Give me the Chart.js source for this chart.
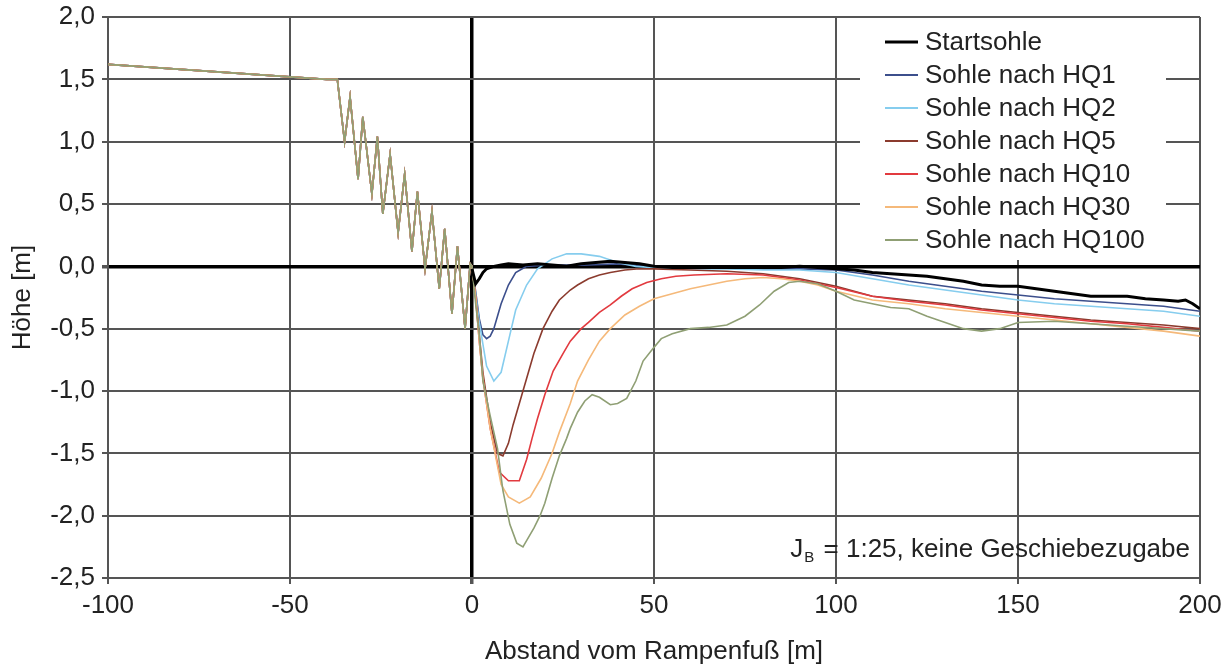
<!DOCTYPE html>
<html lang="de">
<head>
<meta charset="utf-8">
<title>Sohlentwicklung unterhalb der Rampe</title>
<script src="https://cdn.jsdelivr.net/npm/chart.js@4.4.1/dist/chart.umd.min.js"></script>
<style>
  html, body { margin: 0; padding: 0; background: #fff; }
  #wrap { position: relative; width: 1228px; height: 668px; }
</style>
</head>
<body>
<div id="wrap"><canvas id="sohleChart" width="1228" height="668"></canvas></div>
<script>
// --- Daten ---

// Achsen
const xTicks = [-100, -50, 0, 50, 100, 150, 200];
const yTicks = [-2.5, -2.0, -1.5, -1.0, -0.5, 0.0, 0.5, 1.0, 1.5, 2.0];

const seriesNames = ['Startsohle', 'Sohle nach HQ1', 'Sohle nach HQ2', 'Sohle nach HQ5',
                     'Sohle nach HQ10', 'Sohle nach HQ30', 'Sohle nach HQ100'];

// Rampe (Oberwasser + Riegelstrecke), für alle Abflüsse nahezu gleich
const rampX = [-100, -90, -80, -70, -60, -50, -40, -37, -35, -33.5, -31.3, -30, -27.5, -26,
               -24.5, -22.5, -20.3, -18.5, -16.5, -15, -12.9, -11, -9, -7.5, -5.5, -4, -1.9, -0.5];
const rampY = [1.62, 1.6, 1.58, 1.56, 1.54, 1.52, 1.5, 1.5, 1.0, 1.36, 0.7, 1.2, 0.58, 1.04,
               0.42, 0.9, 0.27, 0.74, 0.12, 0.6, -0.02, 0.44, -0.18, 0.3, -0.38, 0.16, -0.5, 0.02];

// Startsohle unterhalb des Rampenfußes
const startX = [0, 1, 2, 3, 4, 6, 8, 10, 14, 18, 22, 26, 30, 34, 38, 42, 46, 50, 55, 60, 65, 70, 75,
                80, 85, 90, 95, 100, 105, 110, 115, 120, 125, 130, 135, 140, 145, 150, 155, 160, 165,
                170, 175, 180, 185, 190, 194, 196, 198, 200];
const startY = [-0.02, -0.14, -0.1, -0.05, -0.02, 0, 0.01, 0.02, 0.01, 0.02, 0.01, 0, 0.02, 0.03, 0.04,
                0.03, 0.02, 0, -0.01, -0.01, -0.01, -0.01, -0.01, -0.01, -0.01, 0, -0.01, -0.02, -0.03,
                -0.05, -0.06, -0.07, -0.08, -0.1, -0.12, -0.15, -0.16, -0.16, -0.18, -0.2, -0.22,
                -0.24, -0.24, -0.24, -0.26, -0.27, -0.28, -0.27, -0.3, -0.34];

// Sohle nach HQ1
const hq1X = [0, 1, 2, 3, 4, 5, 6, 7, 8, 10, 12, 15, 20, 30, 40, 50, 60, 70, 80, 90, 100, 110, 120,
              130, 140, 150, 160, 170, 180, 190, 200];
const hq1Y = [0, -0.2, -0.42, -0.55, -0.58, -0.56, -0.5, -0.4, -0.3, -0.15, -0.05, 0, 0.01, 0.01,
              0.02, 0, -0.01, -0.01, -0.02, -0.02, -0.03, -0.07, -0.12, -0.16, -0.2, -0.23, -0.26,
              -0.28, -0.3, -0.32, -0.36];

// Sohle nach HQ2
const hq2X = [0, 2, 4, 6, 8, 10, 12, 15, 18, 22, 26, 30, 35, 40, 45, 50, 60, 70, 80, 90, 100, 110,
              120, 130, 140, 150, 160, 170, 180, 190, 200];
const hq2Y = [0, -0.45, -0.8, -0.92, -0.85, -0.6, -0.35, -0.15, -0.02, 0.06, 0.1, 0.1, 0.08, 0.03, 0,
              -0.01, -0.02, -0.02, -0.03, -0.03, -0.05, -0.1, -0.15, -0.19, -0.23, -0.27, -0.3,
              -0.32, -0.34, -0.36, -0.4];

// Sohle nach HQ5
const hq5X = [0, 1, 2, 3, 5, 7, 8.5, 10, 11.3, 13, 15, 17, 19.5, 22, 24, 27, 29, 32, 35, 38, 42, 46,
              50, 60, 70, 80, 90, 100, 110, 120, 130, 140, 150, 160, 170, 180, 190, 200];
const hq5Y = [0, -0.25, -0.55, -0.85, -1.25, -1.5, -1.52, -1.42, -1.27, -1.1, -0.9, -0.7, -0.5,
              -0.36, -0.27, -0.19, -0.15, -0.1, -0.07, -0.05, -0.03, -0.02, -0.02, -0.03, -0.04,
              -0.06, -0.1, -0.16, -0.24, -0.27, -0.3, -0.34, -0.37, -0.4, -0.43, -0.45, -0.47, -0.5];

// Sohle nach HQ10
const hq10X = [0, 1, 2, 3, 5, 7.5, 10, 13, 15, 16.5, 18, 20, 22.3, 25, 27, 30, 32, 35, 38, 41, 44,
               48, 52, 56, 61, 70, 80, 90, 100, 110, 120, 130, 140, 150, 160, 170, 180, 190, 200];
const hq10Y = [0, -0.25, -0.6, -0.9, -1.3, -1.65, -1.72, -1.72, -1.55, -1.38, -1.22, -1.03, -0.84,
               -0.7, -0.6, -0.5, -0.45, -0.37, -0.31, -0.24, -0.18, -0.13, -0.1, -0.08, -0.07,
               -0.06, -0.07, -0.11, -0.17, -0.24, -0.28, -0.31, -0.35, -0.38, -0.41, -0.44, -0.46,
               -0.49, -0.52];

// Sohle nach HQ30
const hq30X = [0, 1, 2, 3, 5, 8, 10, 13, 16, 19, 22, 24, 27, 29, 32, 35, 38, 42, 46, 50, 55, 60, 65,
               70, 75, 80, 85, 90, 95, 100, 110, 120, 130, 140, 150, 160, 170, 180, 190, 200];
const hq30Y = [0, -0.25, -0.6, -0.9, -1.3, -1.75, -1.85, -1.9, -1.85, -1.7, -1.5, -1.33, -1.1, -0.92,
               -0.75, -0.6, -0.5, -0.39, -0.32, -0.26, -0.22, -0.18, -0.15, -0.12, -0.1, -0.09,
               -0.1, -0.12, -0.15, -0.2, -0.27, -0.3, -0.34, -0.37, -0.4, -0.43, -0.46, -0.49,
               -0.52, -0.56];

// Sohle nach HQ100
const hq100X = [0, 1, 2, 3, 5, 7, 8.5, 10.4, 12.3, 14, 15, 17, 18.7, 20, 22, 24, 26, 27, 29, 31, 33,
                35, 38, 40, 42.5, 45, 47, 50, 52, 55, 60, 65, 70, 75, 79, 83, 87, 90, 95, 100, 105,
                110, 115, 120, 125, 130, 135, 140, 145, 150, 160, 170, 180, 190, 200];
const hq100Y = [0, -0.3, -0.55, -0.92, -1.2, -1.46, -1.8, -2.07, -2.22, -2.25, -2.2, -2.1, -2.0,
                -1.9, -1.7, -1.52, -1.38, -1.3, -1.17, -1.08, -1.03, -1.05, -1.11, -1.1, -1.06,
                -0.92, -0.76, -0.65, -0.58, -0.54, -0.5, -0.49, -0.47, -0.4, -0.31, -0.2, -0.13,
                -0.12, -0.14, -0.2, -0.27, -0.3, -0.33, -0.34, -0.4, -0.45, -0.5, -0.52, -0.5,
                -0.45, -0.44, -0.46, -0.48, -0.5, -0.52];

const seriesColors = ['#000000', '#3c4f8c', '#86cdee', '#8b3b2e', '#e23a3f', '#f5b97a', '#8f9f74'];

// --- Hilfsfunktionen ---

function toPoints(xs, ys) {
    return xs.map((x, i) => ({ x: x, y: ys[i] }));
}

function fmtComma(v) {
    return v.toFixed(1).replace('.', ',');
}

const FONT = '"Liberation Sans", Arial, sans-serif';
const FS = 26; // Schriftgröße

// Legende innerhalb der Zeichenfläche (oben rechts, weißer Hintergrund)
const innerLegend = {
    id: 'innerLegend',
    afterDatasetsDraw(chart) {
        const ctx = chart.ctx;
        ctx.save();
        ctx.fillStyle = '#ffffff';
        ctx.fillRect(860, 18, 306, 242);
        ctx.font = FS + 'px ' + FONT;
        ctx.textBaseline = 'middle';
        ctx.textAlign = 'left';
        seriesNames.forEach((name, i) => {
            const y = 42 + i * 33;
            ctx.strokeStyle = seriesColors[i];
            ctx.lineWidth = i === 0 ? 3 : 2;
            ctx.beginPath();
            ctx.moveTo(885, y);
            ctx.lineTo(918, y);
            ctx.stroke();
            ctx.fillStyle = '#222';
            ctx.fillText(name, 925, y + 1);
        });
        ctx.restore();
    }
};

// Beschriftung J_B = 1:25, keine Geschiebezugabe
const noteLabel = {
    id: 'noteLabel',
    afterDraw(chart) {
        const ctx = chart.ctx;
        const right = chart.chartArea.right - 10;
        const base = 557;
        const rest = ' = 1:25, keine Geschiebezugabe';
        ctx.save();
        ctx.fillStyle = '#222';
        ctx.textBaseline = 'alphabetic';
        ctx.textAlign = 'left';
        ctx.font = FS + 'px ' + FONT;
        const wRest = ctx.measureText(rest).width;
        const wJ = ctx.measureText('J').width;
        ctx.font = '15px ' + FONT;
        const wB = ctx.measureText('B').width + 3;
        let x = right - wRest - wB - wJ;
        ctx.font = FS + 'px ' + FONT;
        ctx.fillText('J', x, base);
        x += wJ;
        ctx.font = '15px ' + FONT;
        ctx.fillText('B', x + 1, base + 5);
        x += wB;
        ctx.font = FS + 'px ' + FONT;
        ctx.fillText(rest, x, base);
        ctx.restore();
    }
};

const hqX = [hq1X, hq2X, hq5X, hq10X, hq30X, hq100X];
const hqY = [hq1Y, hq2Y, hq5Y, hq10Y, hq30Y, hq100Y];
// Zeichenreihenfolge (kleiner = weiter oben)
const drawOrder = [0, 6, 5, 4, 3, 2, 1];

const datasets = [{
    label: seriesNames[0],
    data: toPoints(startX, startY),
    borderColor: seriesColors[0],
    borderWidth: 3,
    order: drawOrder[0]
}];
hqX.forEach((xs, i) => {
    datasets.push({
        label: seriesNames[i + 1],
        data: toPoints(rampX.concat(xs), rampY.concat(hqY[i])),
        borderColor: seriesColors[i + 1],
        borderWidth: 1.6,
        order: drawOrder[i + 1]
    });
});

const gridColor = c => (c.tick && c.tick.value === 0 ? '#000000' : '#555555');
const gridWidth = c => (c.tick && c.tick.value === 0 ? 3.5 : 2);

const config = {
    type: 'scatter',
    data: { datasets: datasets },
    options: {
        responsive: false,
        animation: false,
        showLine: true,
        elements: {
            point: { radius: 0, hoverRadius: 0 },
            line: { tension: 0, fill: false }
        },
        layout: { padding: { top: 17, right: 28, left: 0, bottom: 0 } },
        scales: {
            x: {
                type: 'linear',
                min: -100,
                max: 200,
                afterBuildTicks: s => { s.ticks = xTicks.map(v => ({ value: v })); },
                afterFit: s => { s.height = 90; },
                ticks: {
                    color: '#222',
                    font: { size: FS, family: FONT },
                    padding: 6,
                    maxRotation: 0
                },
                grid: { color: gridColor, lineWidth: gridWidth, tickLength: 6, tickColor: '#555555' },
                border: { color: '#555555', width: 2 },
                title: {
                    display: true,
                    text: 'Abstand vom Rampenfuß [m]',
                    color: '#222',
                    font: { size: FS, family: FONT },
                    padding: { top: 4, bottom: 1 }
                }
            },
            y: {
                type: 'linear',
                min: -2.5,
                max: 2.0,
                afterBuildTicks: s => { s.ticks = yTicks.map(v => ({ value: v })); },
                afterFit: s => {
                    s.width = 108;
                    s.paddingTop = 0;    // Zeichenfläche beginnt genau bei layout.padding.top
                    s.paddingBottom = 0;
                },
                ticks: {
                    color: '#222',
                    font: { size: FS, family: FONT },
                    padding: 7,
                    callback: v => fmtComma(v)
                },
                grid: { color: gridColor, lineWidth: gridWidth, tickLength: 6, tickColor: '#555555' },
                border: { color: '#555555', width: 2 },
                title: {
                    display: true,
                    text: 'Höhe [m]',
                    color: '#222',
                    font: { size: FS, family: FONT },
                    padding: { top: 7, bottom: 0 }
                }
            }
        },
        plugins: {
            legend: { display: false },
            tooltip: { enabled: false }
        }
    },
    plugins: [innerLegend, noteLabel]
};

const ctx = document.getElementById('sohleChart').getContext('2d');
new Chart(ctx, config);
</script>
</body>
</html>
